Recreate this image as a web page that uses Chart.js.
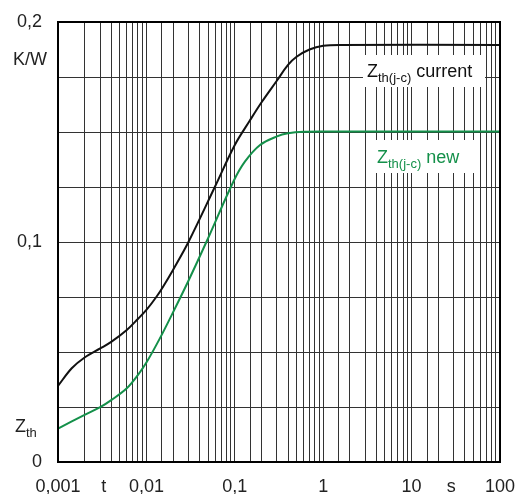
<!DOCTYPE html>
<html>
<head>
<meta charset="utf-8">
<script src="https://cdn.jsdelivr.net/npm/chart.js@4/dist/chart.umd.min.js"></script>
<style>
  html, body { margin: 0; padding: 0; background: #fff; }
  #container { width: 515px; height: 494px; }
</style>
</head>
<body>
<div id="container"><canvas id="canvas"></canvas></div>
<script>
// time axis (s) and Zth values (K/W)
var timesCurrent = [0.001, 0.00143, 0.002, 0.003, 0.004, 0.006, 0.008, 0.01, 0.013, 0.0155, 0.02, 0.03, 0.0596, 0.1, 0.148, 0.2, 0.3, 0.4, 0.5, 0.7, 1, 1.56, 100];
var zthCurrent   = [0.0346, 0.0426, 0.0475, 0.0516, 0.0546, 0.060, 0.065, 0.0691, 0.0751, 0.0798, 0.0873, 0.1001, 0.1251, 0.1441, 0.1552, 0.1634, 0.1734, 0.1805, 0.1842, 0.1875, 0.1892, 0.1896, 0.1896];

var timesNew = [0.001, 0.002, 0.003, 0.004, 0.006, 0.008, 0.01, 0.0142, 0.02, 0.03, 0.0478, 0.0962, 0.13, 0.193, 0.3, 0.4, 0.6, 1.2, 100];
var zthNew   = [0.0152, 0.0214, 0.0249, 0.0281, 0.0335, 0.0395, 0.0452, 0.0562, 0.068, 0.0825, 0.1001, 0.1274, 0.1365, 0.1441, 0.148, 0.1494, 0.1501, 0.1502, 0.1502];

var xTickLabels = {0.001: '0,001', 0.01: '0,01', 0.1: '0,1', 1: '1', 10: '10', 100: '100'};
var yTickLabels = [[0, '0'], [0.1, '0,1'], [0.2, '0,2']];

var FONT = '"Liberation Sans", Arial, sans-serif';
var GREEN = '#14904a';

function toPoints(xs, ys) {
    var pts = [];
    for (var i = 0; i < xs.length; i++) pts.push({x: xs[i], y: ys[i]});
    return pts;
}

// draws Z with subscript, then the rest of the text
function drawZ(ctx, x, y, sub, rest, color) {
    ctx.fillStyle = color;
    ctx.textBaseline = 'alphabetic';
    ctx.textAlign = 'left';
    ctx.font = '18px ' + FONT;
    ctx.fillText('Z', x, y);
    var w = ctx.measureText('Z').width;
    ctx.font = '13px ' + FONT;
    ctx.fillText(sub, x + w, y + 5);
    w += ctx.measureText(sub).width;
    if (rest) {
        ctx.font = '18px ' + FONT;
        ctx.fillText(rest, x + w + 5, y);
    }
}

var extras = {
    id: 'extras',
    afterDraw: function(chart) {
        var ctx = chart.ctx;
        var a = chart.chartArea;
        ctx.save();
        // frame
        ctx.strokeStyle = '#000';
        ctx.lineWidth = 2;
        ctx.strokeRect(a.left, a.top, a.right - a.left, a.bottom - a.top);

        // curve labels on white boxes
        ctx.fillStyle = '#fff';
        ctx.fillRect(363, 55, 122, 32);
        ctx.fillRect(373, 140, 102, 33);
        drawZ(ctx, 367, 77, 'th(j-c)', 'current', '#111');
        drawZ(ctx, 377, 163, 'th(j-c)', 'new', GREEN);

        // axis names
        ctx.fillStyle = '#222';
        ctx.font = '18px ' + FONT;
        ctx.textAlign = 'center';
        ctx.textBaseline = 'middle';
        ctx.fillText('K/W', 30, 60);
        var xs = chart.scales.x;
        var yb = a.bottom + 25;
        ctx.fillText('t', xs.getPixelForValue(0.0033), yb);
        ctx.fillText('s', xs.getPixelForValue(28), yb);
        drawZ(ctx, 15, 432, 'th', '', '#222');
        ctx.restore();
    }
};

var config = {
    type: 'line',
    data: {
        datasets: [{
            label: 'Zth(j-c) current',
            data: toPoints(timesCurrent, zthCurrent),
            borderColor: '#111',
            borderWidth: 2,
            pointRadius: 0,
            tension: 0.35
        }, {
            label: 'Zth(j-c) new',
            data: toPoints(timesNew, zthNew),
            borderColor: GREEN,
            borderWidth: 2,
            pointRadius: 0,
            tension: 0.35
        }]
    },
    options: {
        responsive: false,
        animation: false,
        layout: {padding: {left: 0, right: 15, top: 22, bottom: 0}},
        plugins: {
            legend: {display: false},
            tooltip: {enabled: false}
        },
        scales: {
            x: {
                type: 'logarithmic',
                min: 0.001,
                max: 100,
                grid: {color: '#333', lineWidth: 1, drawTicks: false},
                border: {display: false},
                ticks: {
                    autoSkip: false,
                    maxRotation: 0,
                    padding: 14,
                    color: '#222',
                    font: {family: FONT, size: 18},
                    callback: function(v) {
                        for (var k in xTickLabels) {
                            if (Math.abs(v - Number(k)) < Number(k) * 1e-6) return xTickLabels[k];
                        }
                        return '';
                    }
                },
                afterFit: function(s) {
                    s.height = 32;
                    s.paddingLeft = 0;
                    s.paddingRight = 0;
                }
            },
            y: {
                min: 0,
                max: 0.2,
                grid: {color: '#333', lineWidth: 1, drawTicks: false},
                border: {display: false},
                ticks: {
                    stepSize: 0.025,
                    padding: 16,
                    color: '#222',
                    font: {family: FONT, size: 18},
                    callback: function(v) {
                        for (var i = 0; i < yTickLabels.length; i++) {
                            if (Math.abs(v - yTickLabels[i][0]) < 1e-9) return yTickLabels[i][1];
                        }
                        return '';
                    }
                },
                afterFit: function(s) {
                    s.width = 58;
                    s.paddingTop = 0;
                    s.paddingBottom = 0;
                }
            }
        }
    },
    plugins: [extras]
};

var canvas = document.getElementById('canvas');
canvas.width = 515;
canvas.height = 494;
window.myChart = new Chart(canvas.getContext('2d'), config);
</script>
</body>
</html>
